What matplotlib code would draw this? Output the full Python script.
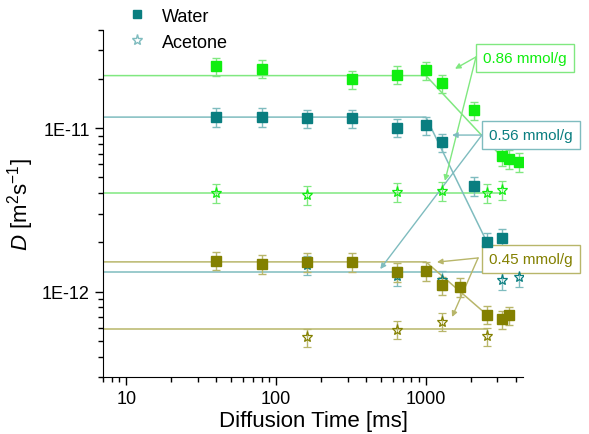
import matplotlib
matplotlib.use("Agg")
import matplotlib.pyplot as plt
from matplotlib.lines import Line2D

plt.rcParams['font.family'] = ['Liberation Sans', 'DejaVu Sans']
plt.rcParams['mathtext.fontset'] = 'custom'
plt.rcParams['mathtext.rm'] = 'Liberation Sans'
plt.rcParams['mathtext.it'] = 'Liberation Sans:italic'

# diffusion times [ms] and D [m^2/s]
# 0.86 mmol/g
t_w86 = [40, 80, 320, 640, 1000, 1280, 2100, 3200, 3600, 4200]
d_w86 = [2.39e-11, 2.32e-11, 1.99e-11, 2.13e-11, 2.26e-11, 1.88e-11, 1.29e-11, 6.75e-12, 6.47e-12, 6.21e-12]
t_a86 = [40, 160, 640, 1280, 2560, 3200]
d_a86 = [4.02e-12, 3.9e-12, 4.07e-12, 4.13e-12, 4.02e-12, 4.19e-12]
# 0.56 mmol/g
t_w56 = [40, 80, 160, 320, 640, 1000, 1280, 2100, 2560, 3200]
d_w56 = [1.17e-11, 1.17e-11, 1.15e-11, 1.15e-11, 1.01e-11, 1.04e-11, 8.2e-12, 4.43e-12, 2.02e-12, 2.13e-12]
t_a56 = [160, 640, 1280, 3200, 4200]
d_a56 = [1.46e-12, 1.25e-12, 1.18e-12, 1.17e-12, 1.22e-12]
# 0.45 mmol/g
t_w45 = [40, 80, 160, 320, 640, 1000, 1280, 1680, 2560, 3200, 3600]
d_w45 = [1.55e-12, 1.48e-12, 1.52e-12, 1.52e-12, 1.32e-12, 1.34e-12, 1.09e-12, 1.07e-12, 7.24e-13, 6.75e-13, 7.14e-13]
t_a45 = [160, 640, 1280, 2560]
d_a45 = [5.25e-13, 5.86e-13, 6.56e-13, 5.32e-13]

rel_err = 0.13

# fit lines
fit_w86_t = [7, 1000, 3200]
fit_w86_d = [2.1e-11, 2.1e-11, 6.7e-12]
fit_a86_t = [7, 3200]
fit_a86_d = [4.0e-12, 4.0e-12]
fit_w56_t = [7, 1000, 2560]
fit_w56_d = [1.17e-11, 1.17e-11, 2.0e-12]
fit_a56_t = [7, 4200]
fit_a56_d = [1.32e-12, 1.32e-12]
fit_w45_t = [7, 1000, 2560]
fit_w45_d = [1.52e-12, 1.52e-12, 7.2e-13]
fit_a45_t = [7, 2560]
fit_a45_d = [5.9e-13, 5.9e-13]

green, green_l = '#10ee10', '#80e880'
teal, teal_l = '#0a7e80', '#7fbcbf'
olive, olive_l = '#838000', '#b8b66a'

fig = plt.figure(figsize=(5.89, 4.35), dpi=100)
ax = fig.add_axes([0.175, 0.131, 0.713, 0.798])

sets = [
    (t_w86, d_w86, t_a86, d_a86, fit_w86_t, fit_w86_d, fit_a86_t, fit_a86_d, green, green_l),
    (t_w56, d_w56, t_a56, d_a56, fit_w56_t, fit_w56_d, fit_a56_t, fit_a56_d, teal, teal_l),
    (t_w45, d_w45, t_a45, d_a45, fit_w45_t, fit_w45_d, fit_a45_t, fit_a45_d, olive, olive_l),
]
for tw, dw, ta, da, fwt, fwd, fat, fad, c, cl in sets:
    ax.plot(fwt, fwd, color=cl, lw=1.1, zorder=1)
    ax.plot(fat, fad, color=cl, lw=1.1, zorder=1)
    ax.errorbar(tw, dw, yerr=[rel_err * v for v in dw], fmt='s', color=c, ms=6.5,
                ecolor=cl, elinewidth=1, capsize=3, capthick=1, zorder=3)
    ax.errorbar(ta, da, yerr=[rel_err * v for v in da], fmt='*', color=c, mfc='none', mew=0.9,
                ms=8, ecolor=cl, elinewidth=1, capsize=3, capthick=1, zorder=3)

ax.set_xscale('log')
ax.set_yscale('log')
ax.set_xlim(7, 4450)
ax.set_ylim(3e-13, 4e-11)
ax.set_yticks([1e-12, 1e-11])
ax.set_yticklabels(['1E-12', '1E-11'])
ax.set_xticks([10, 100, 1000])
ax.set_xticklabels(['10', '100', '1000'])
for s in ['top', 'right']:
    ax.spines[s].set_visible(False)
ax.tick_params(which='major', direction='out', length=6, width=1, labelsize=13)
ax.tick_params(which='minor', direction='out', length=3.5, width=1)
ax.set_xlabel('Diffusion Time [ms]', fontsize=16, labelpad=2)
ax.set_ylabel('$D$ [m$^2$s$^{-1}$]', fontsize=16, labelpad=4)

# labelled boxes with arrows
boxes = [
    ('0.86 mmol/g', green, green_l, (1.005, 0.919), (0.888, 0.922), [(0.838, 0.888), (0.814, 0.565)]),
    ('0.56 mmol/g', teal, teal_l, (1.019, 0.697), (0.902, 0.697), [(0.831, 0.697), (0.660, 0.311)]),
    ('0.45 mmol/g', olive, olive_l, (1.019, 0.340), (0.893, 0.343), [(0.795, 0.331), (0.831, 0.173)]),
]
for txt, c, cl, pos, start, targets in boxes:
    for tgt in targets:
        ax.annotate('', xy=tgt, xycoords='axes fraction', xytext=start, textcoords='axes fraction',
                    arrowprops=dict(arrowstyle='-|>', color=cl, lw=1, mutation_scale=8,
                                    shrinkA=0, shrinkB=0), annotation_clip=False)
    ax.text(pos[0], pos[1], txt, transform=ax.transAxes, color=c, fontsize=11,
            ha='center', va='center', clip_on=False,
            bbox=dict(boxstyle='square,pad=0.45', fc='white', ec=cl, lw=1))

handles = [Line2D([], [], marker='s', ls='none', color=teal, ms=6),
           Line2D([], [], marker='*', ls='none', color=teal_l, mfc='none', ms=8)]
fig.legend(handles, ['Water', 'Acetone'], loc='upper left', bbox_to_anchor=(0.217, 0.98),
           frameon=False, fontsize=13, handlelength=1, handletextpad=0.9,
           borderpad=0, borderaxespad=0, labelspacing=0.5)

fig.savefig('out.png', dpi=100)
